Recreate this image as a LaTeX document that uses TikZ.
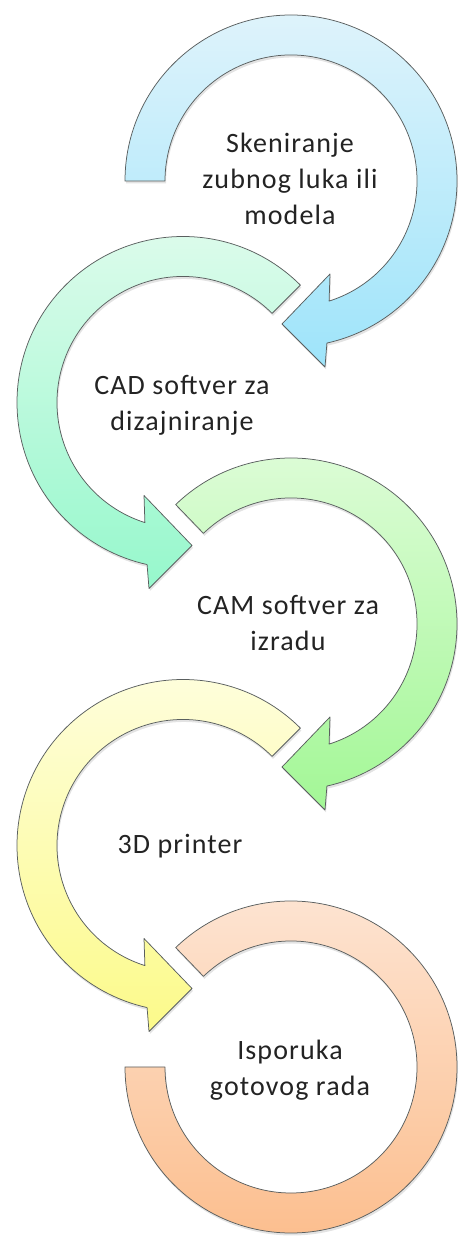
\documentclass[tikz,border=0pt]{standalone}
\usepackage{fontspec}
\setmainfont[LetterSpace=4]{Carlito}
\usetikzlibrary{calc,shadows}
\definecolor{aTop}{RGB}{222,243,251}
\definecolor{aBot}{RGB}{158,228,250}
\definecolor{bTop}{RGB}{222,251,236}
\definecolor{bBot}{RGB}{150,248,204}
\definecolor{cTop}{RGB}{222,252,216}
\definecolor{cBot}{RGB}{163,247,150}
\definecolor{dTop}{RGB}{254,254,222}
\definecolor{dBot}{RGB}{252,250,138}
\definecolor{eTop}{RGB}{253,229,212}
\definecolor{eBot}{RGB}{252,189,140}
\definecolor{edge}{RGB}{90,95,95}
\definecolor{txt}{RGB}{35,35,35}
\tikzset{
  ring/.style={draw=edge, line width=0.75pt, line join=round,
    drop shadow={shadow xshift=1pt, shadow yshift=-2.5pt, opacity=0.22}},
  lbl/.style={align=center, text=txt, inner sep=0pt,
    font=\fontsize{28}{36}\selectfont}
}
\begin{document}
\begin{tikzpicture}[x=1pt,y=1pt]
\useasboundingbox (0,0) rectangle (465,1240);
\coordinate (C1) at (291,1059);
\coordinate (C2) at (183,837.5);
\coordinate (C3) at (291,616);
\coordinate (C4) at (183,394.5);
\coordinate (C5) at (291,173);
% ring 1 (right, clockwise, starts at left)
\path[ring, top color=aTop, bottom color=aBot]
  ($(C1)+(180:166pt)$) arc[start angle=180, end angle=-77.5, radius=166pt]
  -- ($(C1)+(34pt,-186pt)$) -- ($(C1)+(-9pt,-143pt)$) -- ($(C1)+(39pt,-93pt)$)
  -- ($(C1)+(-72.4:126pt)$) arc[start angle=-72.4, end angle=180, radius=126pt] -- cycle;
% ring 2 (left, counter-clockwise)
\path[ring, top color=bTop, bottom color=bBot]
  ($(C2)+(45:166pt)$) arc[start angle=45, end angle=257.5, radius=166pt]
  -- ($(C2)+(-34pt,-186pt)$) -- ($(C2)+(9pt,-143pt)$) -- ($(C2)+(-39pt,-93pt)$)
  -- ($(C2)+(252.4:126pt)$) arc[start angle=252.4, end angle=45, radius=126pt] -- cycle;
% ring 3 (right, clockwise)
\path[ring, top color=cTop, bottom color=cBot]
  ($(C3)+(134:166pt)$) arc[start angle=134, end angle=-77.5, radius=166pt]
  -- ($(C3)+(34pt,-186pt)$) -- ($(C3)+(-9pt,-143pt)$) -- ($(C3)+(39pt,-93pt)$)
  -- ($(C3)+(-72.4:126pt)$) arc[start angle=-72.4, end angle=134, radius=126pt] -- cycle;
% ring 4 (left, counter-clockwise)
\path[ring, top color=dTop, bottom color=dBot]
  ($(C4)+(45:166pt)$) arc[start angle=45, end angle=257.5, radius=166pt]
  -- ($(C4)+(-34pt,-186pt)$) -- ($(C4)+(9pt,-143pt)$) -- ($(C4)+(-39pt,-93pt)$)
  -- ($(C4)+(252.4:126pt)$) arc[start angle=252.4, end angle=45, radius=126pt] -- cycle;
% ring 5 (right, no head)
\path[ring, top color=eTop, bottom color=eBot]
  ($(C5)+(134:166pt)$) arc[start angle=134, end angle=-180, radius=166pt]
  -- ($(C5)+(-180:126pt)$) arc[start angle=-180, end angle=134, radius=126pt] -- cycle;
% labels
\node[lbl] (t1) at (290,1061) {Skeniranje\\zubnog luka ili\\modela};
\node[lbl] (t2) at (182,835) {CAD softver za\\dizajniranje};
\node[lbl] (t3) at (288,617) {CAM softver za\\izradu};
\node[lbl] (t4) at (180,394) {3D printer};
\node[lbl] (t5) at (290,170) {Isporuka\\gotovog rada};
\end{tikzpicture}
\end{document}
